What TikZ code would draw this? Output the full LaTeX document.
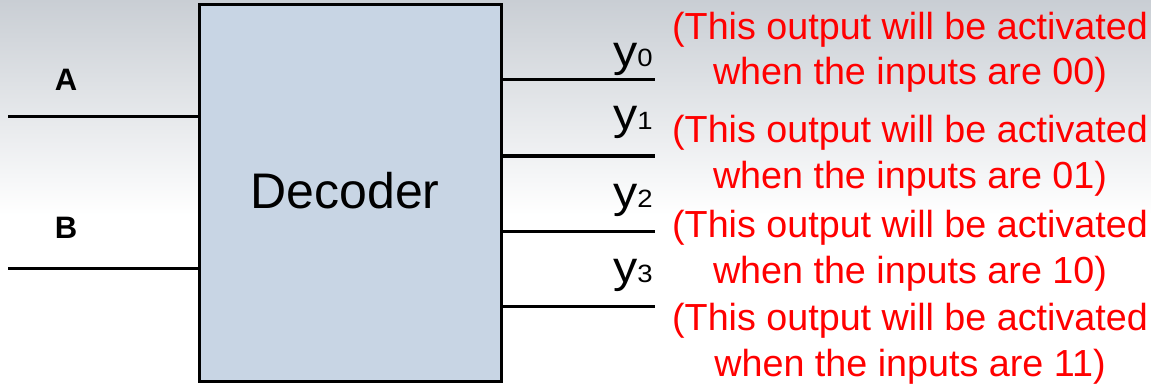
\documentclass[tikz,border=0pt]{standalone}
\usepackage{fontspec}
\setmainfont{Liberation Sans}
\definecolor{boxfill}{RGB}{200,213,228}
\definecolor{bgtop}{RGB}{201,206,212}
\definecolor{note}{RGB}{255,0,0}
\tikzset{
  wire/.style={line width=3pt},
  inlabel/.style={font=\fontsize{31}{31}\selectfont\bfseries, anchor=base},
  outlabel/.style={font=\fontsize{44}{44}\selectfont, anchor=base east, inner sep=0pt,
                   xscale=1.1, transform shape},
  remark/.style={font=\fontsize{37.7}{45.5}\selectfont, text=note, align=center, anchor=base, inner sep=0pt}
}
\newcommand{\sub}[1]{{\fontsize{25}{25}\selectfont #1}}
\begin{document}
\begin{tikzpicture}[x=1pt, y={(0pt,-1pt)}]
  \useasboundingbox (0,0) rectangle (1151,385);
  % background
  \fill[white] (0,0) rectangle (1151,385);
  \shade[top color=bgtop, bottom color=white] (0,0) rectangle (1151,215);

  \node[draw, line width=3pt, fill=boxfill, minimum width=302pt, minimum height=377pt,
        inner sep=0pt] (dec) at (350.5,193) {};
  \node[font=\fontsize{50}{50}\selectfont, anchor=base] (name) at (345,208) {Decoder};

  % inputs
  \coordinate (inA) at (8,117);
  \coordinate (inB) at (8,268);
  \draw[wire] (inA) -- (inA -| dec.west);
  \draw[wire] (inB) -- (inB -| dec.west);
  \node[inlabel] (A) at (66,91) {A};
  \node[inlabel] (B) at (66,238) {B};

  % outputs
  \coordinate (out0) at (655,80);
  \coordinate (out1) at (655,156);
  \coordinate (out2) at (655,231);
  \coordinate (out3) at (655,306);
  \foreach \i in {0,...,3}
    \draw[wire] (out\i -| dec.east) -- (out\i);
  \node[outlabel] (y0) at (653,67) {y\sub{0}};
  \node[outlabel] (y1) at (653,130) {y\sub{1}};
  \node[outlabel] (y2) at (653,207) {y\sub{2}};
  \node[outlabel] (y3) at (653,282) {y\sub{3}};

  % notes (anchored on the second line)
  \node[remark] (n0) at (910,85) {(This output will be activated\\when the inputs are 00)};
  \node[remark] (n1) at (910,188) {(This output will be activated\\when the inputs are 01)};
  \node[remark] (n2) at (910,283) {(This output will be activated\\when the inputs are 10)};
  \node[remark] (n3) at (910,376) {(This output will be activated\\when the inputs are 11)};
\end{tikzpicture}
\end{document}
